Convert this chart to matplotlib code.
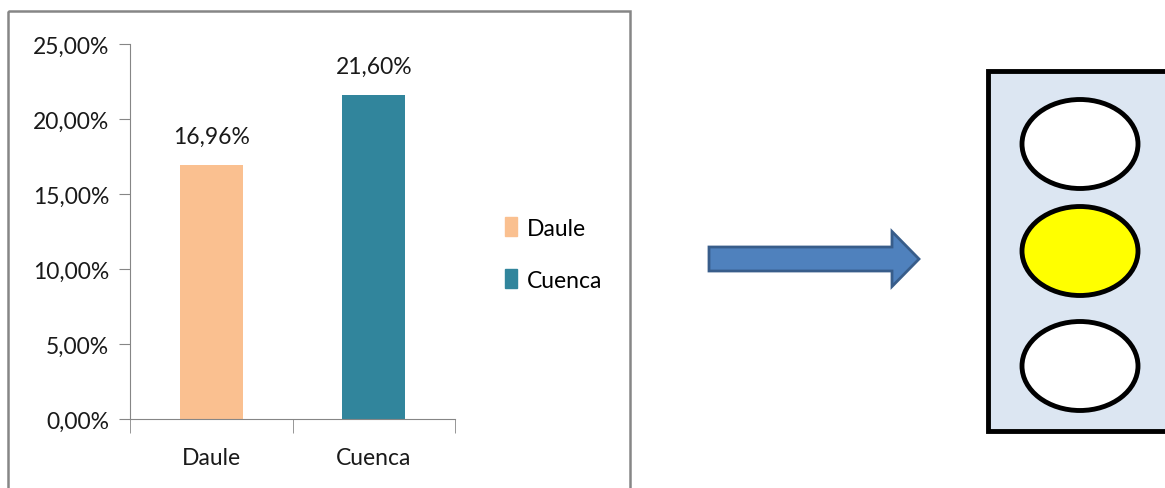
import matplotlib.pyplot as plt
from matplotlib.patches import Rectangle, Ellipse, FancyArrow
from matplotlib.ticker import FuncFormatter

# data
categories = ['Daule', 'Cuenca']
values = [16.96, 21.60]
bar_colors = ['#FAC090', '#31859C']
y_ticks = [0, 5, 10, 15, 20, 25]

plt.rcParams['font.family'] = ['Lato', 'DejaVu Sans']

W, H = 1165, 489
fig = plt.figure(figsize=(W / 100, H / 100), dpi=100)

# overlay axes in pixel coordinates for the frame, arrow and traffic light
over = fig.add_axes([0, 0, 1, 1])
over.set_xlim(0, W)
over.set_ylim(H, 0)
over.axis('off')

# chart frame
over.add_patch(Rectangle((8, 12), 622, 490, fill=False, edgecolor='#868686', lw=1.8))

# arrow
over.add_patch(FancyArrow(709, 260, 210, 0, width=24, head_width=55, head_length=27,
                          length_includes_head=True, facecolor='#4F81BD',
                          edgecolor='#385D8A', lw=2))

# traffic light
over.add_patch(Rectangle((988, 72), 200, 360, facecolor='#DCE6F2', edgecolor='black', lw=3.5))
light_colors = ['white', '#FFFF00', 'white']
for cy, c in zip([145, 252, 367], light_colors):
    over.add_patch(Ellipse((1080, cy), 116, 89, facecolor=c, edgecolor='black', lw=3.5))

# bar chart
fs = 16.5
ax = fig.add_axes([130 / W, 1 - 420 / H, 325 / W, 375 / H])
x = range(len(categories))
bars = ax.bar(x, values, width=0.39, color=bar_colors)
for b, v in zip(bars, values):
    ax.text(b.get_x() + b.get_width() / 2, v + 1.2, ('%.2f%%' % v).replace('.', ','),
            ha='center', va='bottom', fontsize=fs, color='#1a1a1a')

ax.set_xlim(-0.5, 1.5)
ax.set_ylim(0, 25)
ax.set_yticks(y_ticks)
ax.yaxis.set_major_formatter(FuncFormatter(lambda v, p: ('%.2f%%' % v).replace('.', ',')))
ax.set_xticks(list(x))
ax.set_xticklabels(categories)
ax.set_xticks([-0.5, 0.5, 1.5], minor=True)
ax.tick_params(axis='x', which='major', length=0, pad=20, labelsize=fs, labelcolor='#1a1a1a')
ax.tick_params(axis='x', which='minor', length=10, color='#868686', direction='out')
ax.tick_params(axis='y', length=8, color='#868686', labelsize=fs, labelcolor='#1a1a1a', pad=7)
for s in ['top', 'right']:
    ax.spines[s].set_visible(False)
ax.spines['left'].set_color('#868686')
ax.spines['bottom'].set_color('#868686')

# legend
handles = [Rectangle((0, 0), 1, 1, color=c) for c in bar_colors]
fig.legend(handles, categories, loc='center left', bbox_to_anchor=(484 / W, 1 - 255 / H),
           frameon=False, fontsize=fs, handlelength=0.55, handleheight=0.9,
           handletextpad=0.4, labelspacing=1.35)

plt.savefig('out.png', dpi=100)
